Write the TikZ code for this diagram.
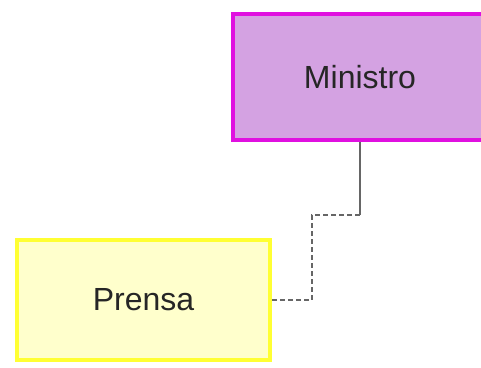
\documentclass[tikz,border=0pt]{standalone}
\usepackage{fontspec}
\setmainfont{Liberation Sans}
\definecolor{ministrofill}{HTML}{D4A2E2}
\definecolor{ministroline}{HTML}{E010E0}
\definecolor{prensafill}{HTML}{FFFFCC}
\definecolor{prensaline}{HTML}{FFFF33}
\definecolor{connline}{HTML}{666666}
\begin{document}
\begin{tikzpicture}[x=1pt,y=-1pt,
  box/.style={draw,line width=4pt,inner sep=0pt,font=\fontsize{32}{38}\selectfont}]
			\useasboundingbox (0,0) rectangle (481,367);
			\node[box,fill=ministrofill,draw=ministroline,text=black!85,minimum width=254pt,minimum height=126pt] (ministro) at (360,77) {Ministro};
			\node[box,fill=prensafill,draw=prensaline,text=black!85,minimum width=253pt,minimum height=120pt] (prensa) at (143.5,300) {Prensa};
			\coordinate (knee) at (ministro.south |- 0,215);
			\draw[connline,line width=1.2pt] (ministro.south) -- (knee);
			\draw[connline,line width=1.2pt,dash pattern=on 5pt off 3pt] (knee) -- (312,215) |- (prensa.east);
		\end{tikzpicture}
\end{document}
